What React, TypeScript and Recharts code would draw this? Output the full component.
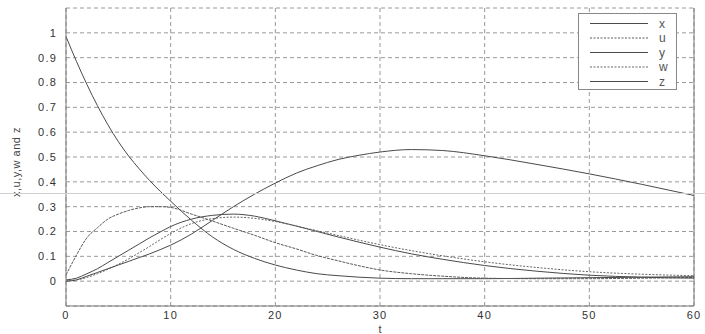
import React from 'react';
import { LineChart, Line, XAxis, YAxis, CartesianGrid, Legend, ReferenceLine } from 'recharts';

const tValues = [0, 1, 2, 3, 4, 5, 6, 7, 8, 9, 10, 12, 14, 16, 18, 20, 22, 24, 26, 28, 30, 33, 36, 40, 45, 50, 55, 60];
const xValues = [0.985, 0.885, 0.792, 0.707, 0.63, 0.562, 0.503, 0.452, 0.405, 0.362, 0.322, 0.245, 0.178, 0.128, 0.092, 0.065, 0.045, 0.03, 0.022, 0.016, 0.012, 0.01, 0.01, 0.01, 0.012, 0.014, 0.016, 0.018];
const uValues = [0.025, 0.105, 0.175, 0.215, 0.25, 0.27, 0.285, 0.295, 0.3, 0.3, 0.297, 0.27, 0.242, 0.213, 0.185, 0.155, 0.13, 0.103, 0.082, 0.062, 0.045, 0.03, 0.02, 0.012, 0.01, 0.01, 0.012, 0.015];
const yValues = [0.005, 0.012, 0.03, 0.05, 0.075, 0.1, 0.125, 0.15, 0.175, 0.198, 0.22, 0.25, 0.265, 0.27, 0.262, 0.243, 0.222, 0.2, 0.178, 0.157, 0.137, 0.11, 0.088, 0.063, 0.04, 0.024, 0.016, 0.012];
const wValues = [0.0, 0.005, 0.015, 0.03, 0.048, 0.068, 0.09, 0.115, 0.14, 0.167, 0.192, 0.232, 0.252, 0.258, 0.253, 0.24, 0.222, 0.203, 0.184, 0.165, 0.147, 0.123, 0.102, 0.078, 0.055, 0.038, 0.028, 0.022];
const zValues = [0.0, 0.005, 0.02, 0.035, 0.05, 0.065, 0.08, 0.095, 0.11, 0.127, 0.145, 0.19, 0.245, 0.3, 0.35, 0.395, 0.435, 0.465, 0.49, 0.507, 0.52, 0.53, 0.526, 0.505, 0.47, 0.432, 0.39, 0.345];

const seriesNames = ['x', 'u', 'y', 'w', 'z'];
const xTicks = [0, 10, 20, 30, 40, 50, 60];
const yTicks = [0, 0.1, 0.2, 0.3, 0.4, 0.5, 0.6, 0.7, 0.8, 0.9, 1];
const yLabel = 'x,u,y,w and z';
const xLabel = 't';

const seriesValues: Record<string, number[]> = { x: xValues, u: uValues, y: yValues, w: wValues, z: zValues };

const data = tValues.map((t, i) => {
  const row: Record<string, number> = { t };
  seriesNames.forEach((n) => {
    row[n] = seriesValues[n][i];
  });
  return row;
});

const styleFor: Record<string, { color: string; dash?: string }> = {
  x: { color: '#4a4a4a' },
  u: { color: '#5a5a5a', dash: '3 1' },
  y: { color: '#4a4a4a' },
  w: { color: '#666', dash: '2 1.5' },
  z: { color: '#4a4a4a' },
};

const tickFont = { fontSize: 11, fill: '#333', fontFamily: 'Liberation Sans, Arial, sans-serif', letterSpacing: 1.2 };

const LegendBox = () => (
  <svg width={99} height={77} style={{ display: 'block' }}>
    <rect x={0.5} y={0.5} width={98} height={76} fill="#fff" stroke="#888" />
    {seriesNames.map((n, i) => {
      const cy = 10.5 + i * 14.5;
      return (
        <g key={n}>
          <line x1={12} x2={70} y1={cy} y2={cy} stroke={styleFor[n].color} strokeDasharray={styleFor[n].dash ? '2 1.5' : undefined} />
          <text x={81} y={cy} dy="0.35em" fontSize={12} fill="#555" fontFamily="Liberation Sans, Arial, sans-serif">
            {n}
          </text>
        </g>
      );
    })}
  </svg>
);

export default function App() {
  return (
    <div style={{ position: 'absolute', left: 0, top: 0, width: 705, height: 334, background: '#fff' }}>
      <LineChart width={705} height={334} data={data} margin={{ top: 8, right: 11, bottom: 0, left: 0 }}>
        <CartesianGrid stroke="#9a9a9a" strokeDasharray="4 3" />
        <XAxis
          dataKey="t"
          type="number"
          domain={[0, 60]}
          ticks={xTicks}
          height={28}
          tickLine={false}
          tickSize={0}
          tickMargin={5}
          stroke="#777"
          tick={tickFont}
          allowDataOverflow
          label={{
            content: (props: any) => {
              const vb = props.viewBox || { x: 66, y: 306, width: 628, height: 28 };
              return (
                <text x={vb.x + vb.width / 2} y={vb.y + 23} dominantBaseline="central" textAnchor="middle" fontSize={11} fill="#444" fontFamily="Liberation Sans, Arial, sans-serif">
                  {xLabel}
                </text>
              );
            },
          }}
        />
        <YAxis
          type="number"
          domain={[-0.1, 1.1]}
          ticks={yTicks}
          width={66}
          tickLine={false}
          tickSize={0}
          tickMargin={9}
          stroke="#777"
          tick={tickFont}
          allowDataOverflow
          label={{
            content: (props: any) => {
              const vb = props.viewBox || { x: 0, y: 8, width: 66, height: 298 };
              const cx = 16;
              const cy = vb.y + vb.height / 2 + 5;
              return (
                <text x={cx} y={cy} transform={`rotate(-90 ${cx} ${cy})`} textAnchor="middle" dominantBaseline="central" fontSize={11} letterSpacing={0.5} fill="#444" fontFamily="Liberation Sans, Arial, sans-serif">
                  {yLabel}
                </text>
              );
            },
          }}
        />
        <ReferenceLine x={60} stroke="#777" />
        {seriesNames.map((n) => (
          <Line
            key={n}
            dataKey={n}
            name={n}
            type="monotone"
            stroke={styleFor[n].color}
            strokeWidth={1}
            strokeDasharray={styleFor[n].dash}
            dot={false}
            isAnimationActive={false}
          />
        ))}
        <Legend
          layout="vertical"
          align="center"
          verticalAlign="middle"
          wrapperStyle={{ position: 'absolute', left: 578, top: 13, width: 99, height: 77 }}
          content={() => <LegendBox />}
        />
      </LineChart>
      <div style={{ position: 'absolute', left: 0, top: 193, width: 705, height: 1, background: '#d0d0d0', pointerEvents: 'none' }} />
    </div>
  );
}
